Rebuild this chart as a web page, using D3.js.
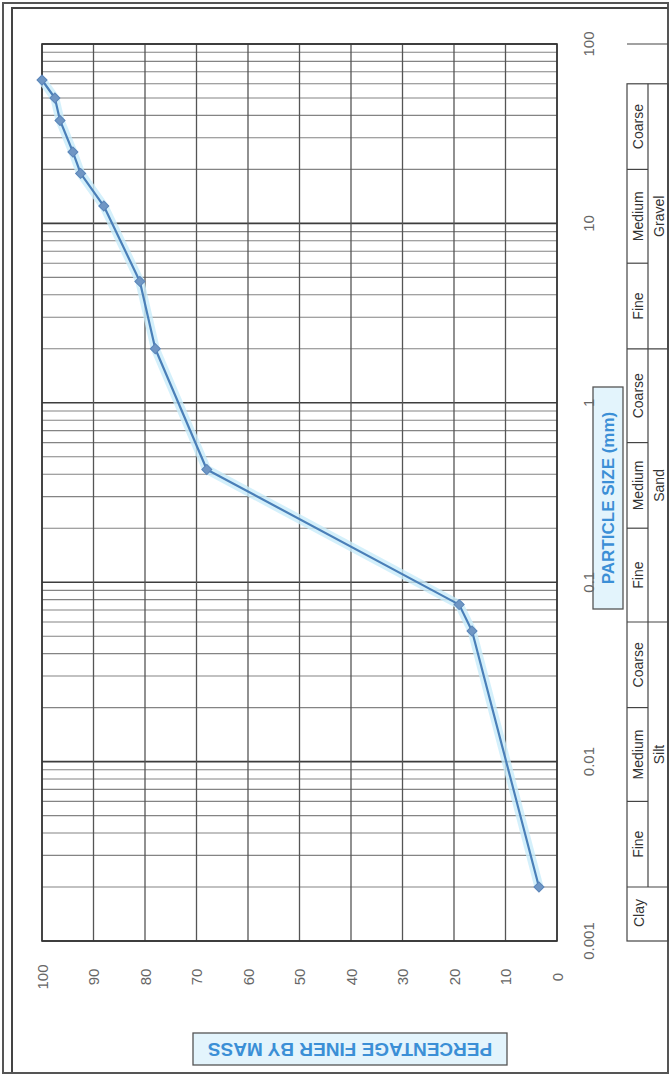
<!DOCTYPE html>
<html>
<head>
<meta charset="utf-8">
<script src="https://cdn.jsdelivr.net/npm/d3@7"></script>
<style>
  html, body { margin: 0; padding: 0; background: #fff; }
  svg { display: block; }
</style>
</head>
<body>
<svg id="chart" width="670" height="1077"></svg>
<script>
// Grading curve data: sieve / hydrometer sizes (mm) and percentage passing
const particleSize = [63, 50, 37.5, 25, 19, 12.5, 4.75, 2, 0.425, 0.075, 0.0535, 0.002];
const percentFiner = [100, 97.5, 96.5, 94, 92.5, 88, 81, 78, 68, 19, 16.5, 3.5];

// Axis ticks
const sizeTicks = [0.001, 0.01, 0.1, 1, 10, 100];
const sizeTickLabels = ["0.001", "0.01", "0.1", "1", "10", "100"];
const percentTicks = [0, 10, 20, 30, 40, 50, 60, 70, 80, 90, 100];

// Soil classification band
const fractionNames = ["Clay", "Silt", "Sand", "Gravel"];
const fractionBounds = [0.001, 0.002, 0.06, 2, 60];
const subNames = ["Fine", "Medium", "Coarse"];
const siltBounds = [0.002, 0.006, 0.02, 0.06];
const sandBounds = [0.06, 0.2, 0.6, 2];
const gravelBounds = [2, 6, 20, 60];

const svg = d3.select("#chart");
const W = 897, H = 515;   // plot size along the size axis and the percentage axis
const lineBlue = "#4a7fb8";
const labelBlue = "#3b8fd6";
const font = "'Liberation Sans', Arial, sans-serif";

// Page frame
svg.append("rect").attr("x", 3).attr("y", 3).attr("width", 665).attr("height", 1070)
  .attr("fill", "none").attr("stroke", "#555").attr("stroke-width", 2);
svg.append("path").attr("d", "M12,1072 V8 H668")
  .attr("fill", "none").attr("stroke", "#444").attr("stroke-width", 2);

// The chart is laid out with the size axis running up the page
const g = svg.append("g").attr("transform", "translate(42,941) rotate(-90)");

const x = d3.scaleLog().domain([0.001, 100]).range([0, W]);
const y = d3.scaleLinear().domain([0, 100]).range([H, 0]);

// Log grid lines (1..9 in each decade)
const gridSizes = [];
[0.001, 0.01, 0.1, 1, 10].forEach(d => { for (let k = 1; k <= 9; k++) gridSizes.push(+(k * d).toPrecision(3)); });
gridSizes.push(100);
g.append("g").selectAll("line").data(gridSizes).join("line")
  .attr("x1", d => x(d)).attr("x2", d => x(d))
  .attr("y1", 0).attr("y2", H)
  .attr("stroke", d => sizeTicks.includes(d) ? "#333" : "#666")
  .attr("stroke-width", d => sizeTicks.includes(d) ? 1.6 : 1.1)
  .attr("opacity", d => sizeTicks.includes(d) ? 0.95 : 0.8);

// Percentage grid lines
g.append("g").selectAll("line").data(percentTicks).join("line")
  .attr("x1", 0).attr("x2", W)
  .attr("y1", d => y(d)).attr("y2", d => y(d))
  .attr("stroke", "#555").attr("stroke-width", 1.3);

// Plot border
g.append("rect").attr("x", 0).attr("y", 0).attr("width", W).attr("height", H)
  .attr("fill", "none").attr("stroke", "#333").attr("stroke-width", 1.6);

// Percentage tick labels
g.append("g").selectAll("text").data(percentTicks).join("text")
  .attr("x", -36).attr("y", d => y(d))
  .attr("text-anchor", "middle").attr("dominant-baseline", "central")
  .attr("font-family", font).attr("font-size", 15).attr("fill", "#666")
  .text(d => d);

// Classification band beside the plot
const bandTop = 585, bandMid = 606, bandBot = 626;
const band = g.append("g").attr("stroke", "#444").attr("stroke-width", 1.2).attr("fill", "none");
band.append("line").attr("x1", x(100)).attr("x2", x(100)).attr("y1", bandTop).attr("y2", bandBot);
band.append("rect").attr("x", x(fractionBounds[0])).attr("y", bandTop)
  .attr("width", x(fractionBounds[4]) - x(fractionBounds[0])).attr("height", bandBot - bandTop);
band.append("line").attr("x1", x(fractionBounds[1])).attr("x2", x(fractionBounds[4]))
  .attr("y1", bandMid).attr("y2", bandMid);
band.selectAll("line.frac").data(fractionBounds.slice(1, 4)).join("line").attr("class", "frac")
  .attr("x1", d => x(d)).attr("x2", d => x(d)).attr("y1", bandTop).attr("y2", bandBot);
const subGroups = [siltBounds, sandBounds, gravelBounds];
subGroups.forEach(b => {
  band.selectAll(null).data(b.slice(1, 3)).join("line")
    .attr("x1", d => x(d)).attr("x2", d => x(d)).attr("y1", bandTop).attr("y2", bandMid);
});
const bandText = g.append("g").attr("font-family", font).attr("fill", "#333")
  .attr("text-anchor", "middle").attr("dominant-baseline", "central");
subGroups.forEach((b, gi) => {
  for (let i = 0; i < 3; i++) {
    const c = Math.sqrt(b[i] * b[i + 1]);
    bandText.append("text").attr("x", x(c)).attr("y", (bandTop + bandMid) / 2 + 0.5)
      .attr("font-size", 14).text(subNames[i]);
  }
  const mc = Math.sqrt(b[1] * b[2]);
  bandText.append("text").attr("x", x(mc)).attr("y", (bandMid + bandBot) / 2 + 0.5)
    .attr("font-size", 14).text(fractionNames[gi + 1]);
});
bandText.append("text").attr("x", x(Math.sqrt(fractionBounds[0] * fractionBounds[1])) + 1)
  .attr("y", (bandTop + bandMid) / 2 + 1).attr("font-size", 14).text(fractionNames[0]);

// Axis titles in boxed labels
const xTitle = g.append("g").attr("transform", "translate(443,566)");
xTitle.append("rect").attr("x", -111).attr("y", -15).attr("width", 222).attr("height", 30)
  .attr("fill", "#e3f4fc").attr("stroke", "#555").attr("stroke-width", 1.3);
xTitle.append("text").attr("text-anchor", "middle").attr("dominant-baseline", "central")
  .attr("font-family", font).attr("font-weight", "bold").attr("font-size", 17)
  .attr("fill", labelBlue).text("PARTICLE SIZE (mm)");

const yTitle = g.append("g").attr("transform", "translate(-108,308) rotate(-90)");
yTitle.append("rect").attr("x", -157).attr("y", -16).attr("width", 314).attr("height", 32)
  .attr("fill", "#e3f4fc").attr("stroke", "#555").attr("stroke-width", 1.3);
yTitle.append("text").attr("text-anchor", "middle").attr("dominant-baseline", "central")
  .attr("font-family", font).attr("font-weight", "bold").attr("font-size", 19)
  .attr("fill", labelBlue).text("PERCENTAGE FINER BY MASS");

// Size tick labels (drawn above the title box)
g.append("g").selectAll("text").data(sizeTicks).join("text")
  .attr("x", d => x(d)).attr("y", 546)
  .attr("text-anchor", "middle").attr("dominant-baseline", "central")
  .attr("font-family", font).attr("font-size", 15).attr("fill", "#666")
  .text((d, i) => sizeTickLabels[i]);

// Grading curve
const pts = particleSize.map((s, i) => [s, percentFiner[i]]);
const line = d3.line().x(d => x(d[0])).y(d => y(d[1]));
g.append("path").datum(pts).attr("d", line)
  .attr("fill", "none").attr("stroke", "#c9ecfa").attr("stroke-width", 9)
  .attr("stroke-linejoin", "round").attr("opacity", 0.8);
g.append("path").datum(pts).attr("d", line)
  .attr("fill", "none").attr("stroke", lineBlue).attr("stroke-width", 2.2)
  .attr("stroke-linejoin", "round");
g.append("g").selectAll("path").data(pts).join("path")
  .attr("d", d3.symbol().type(d3.symbolSquare).size(50))
  .attr("transform", d => `translate(${x(d[0])},${y(d[1])}) rotate(45)`)
  .attr("fill", "#6f96c4").attr("stroke", "#5a84b8").attr("stroke-width", 1);
</script>
</body>
</html>
